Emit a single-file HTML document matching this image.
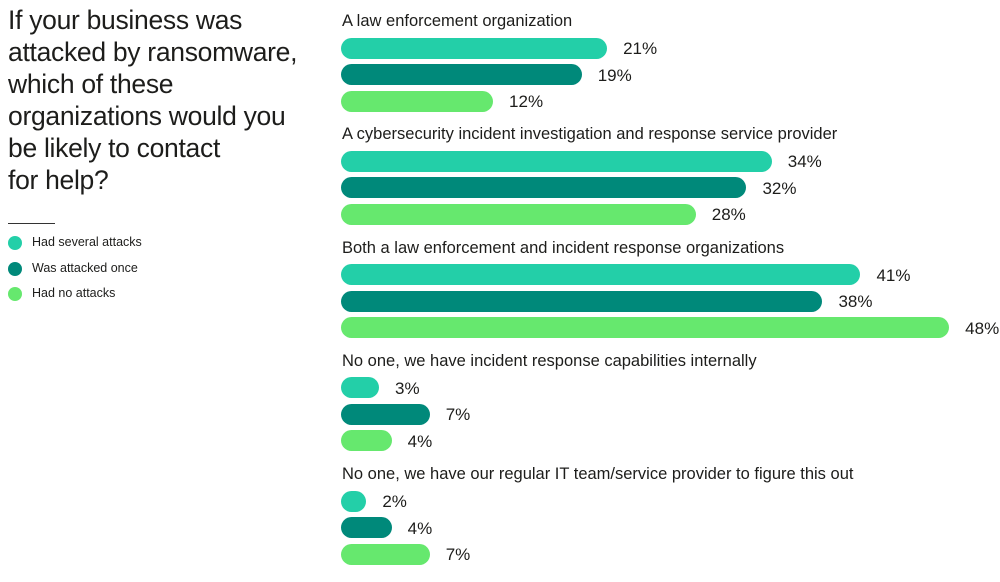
<!DOCTYPE html>
<html><head><style>
body{margin:0;width:1000px;height:582px;background:#fff;font-family:"Liberation Sans",sans-serif;color:#1d1d1b;position:relative;overflow:hidden}
.t{position:absolute;left:8px;top:4px;font-size:26.5px;line-height:32px;letter-spacing:-0.3px}
.hr{position:absolute;left:8px;top:223px;width:47px;height:1px;background:#333}
.lg{position:absolute;left:8px;font-size:12.5px}
.lg i{display:inline-block;width:14px;height:14px;border-radius:50%;vertical-align:middle;margin-right:10px}
.q{position:absolute;left:342px;font-size:16.5px}
.b{position:absolute;left:341px;height:21px;border-radius:11px}
.v{position:absolute;font-size:17px}
</style></head><body>
<div class="t">If your business was<br>attacked by ransomware,<br>which of these<br>organizations would you<br>be likely to contact<br>for help?</div>
<div class="hr"></div>
<div class="lg" style="top:235px"><i style="background:#23cfa8"></i>Had several attacks</div>
<div class="lg" style="top:261px"><i style="background:#00897a"></i>Was attacked once</div>
<div class="lg" style="top:286px"><i style="background:#66e86e"></i>Had no attacks</div>
<div id="c"></div>
<script>
var g=[["A law enforcement organization",[21,19,12]],["A cybersecurity incident investigation and response service provider",[34,32,28]],["Both a law enforcement and incident response organizations",[41,38,48]],["No one, we have incident response capabilities internally",[3,7,4]],["No one, we have our regular IT team/service provider to figure this out",[2,4,7]]];
var col=["#23cfa8","#00897a","#66e86e"],h="";
g.forEach(function(x,i){var y0=i*113.3;h+='<div class="q" style="top:'+(y0+12)+'px">'+x[0]+'</div>';
x[1].forEach(function(p,j){var w=Math.max(21,p*12.67),cy=y0+48+j*26.5;
h+='<div class="b" style="top:'+(cy-10.5)+'px;width:'+w+'px;background:'+col[j]+'"></div><div class="v" style="top:'+(cy-9)+'px;left:'+(341+w+16)+'px">'+p+'%</div>';});});
document.getElementById('c').innerHTML=h;
</script>
</body></html>
